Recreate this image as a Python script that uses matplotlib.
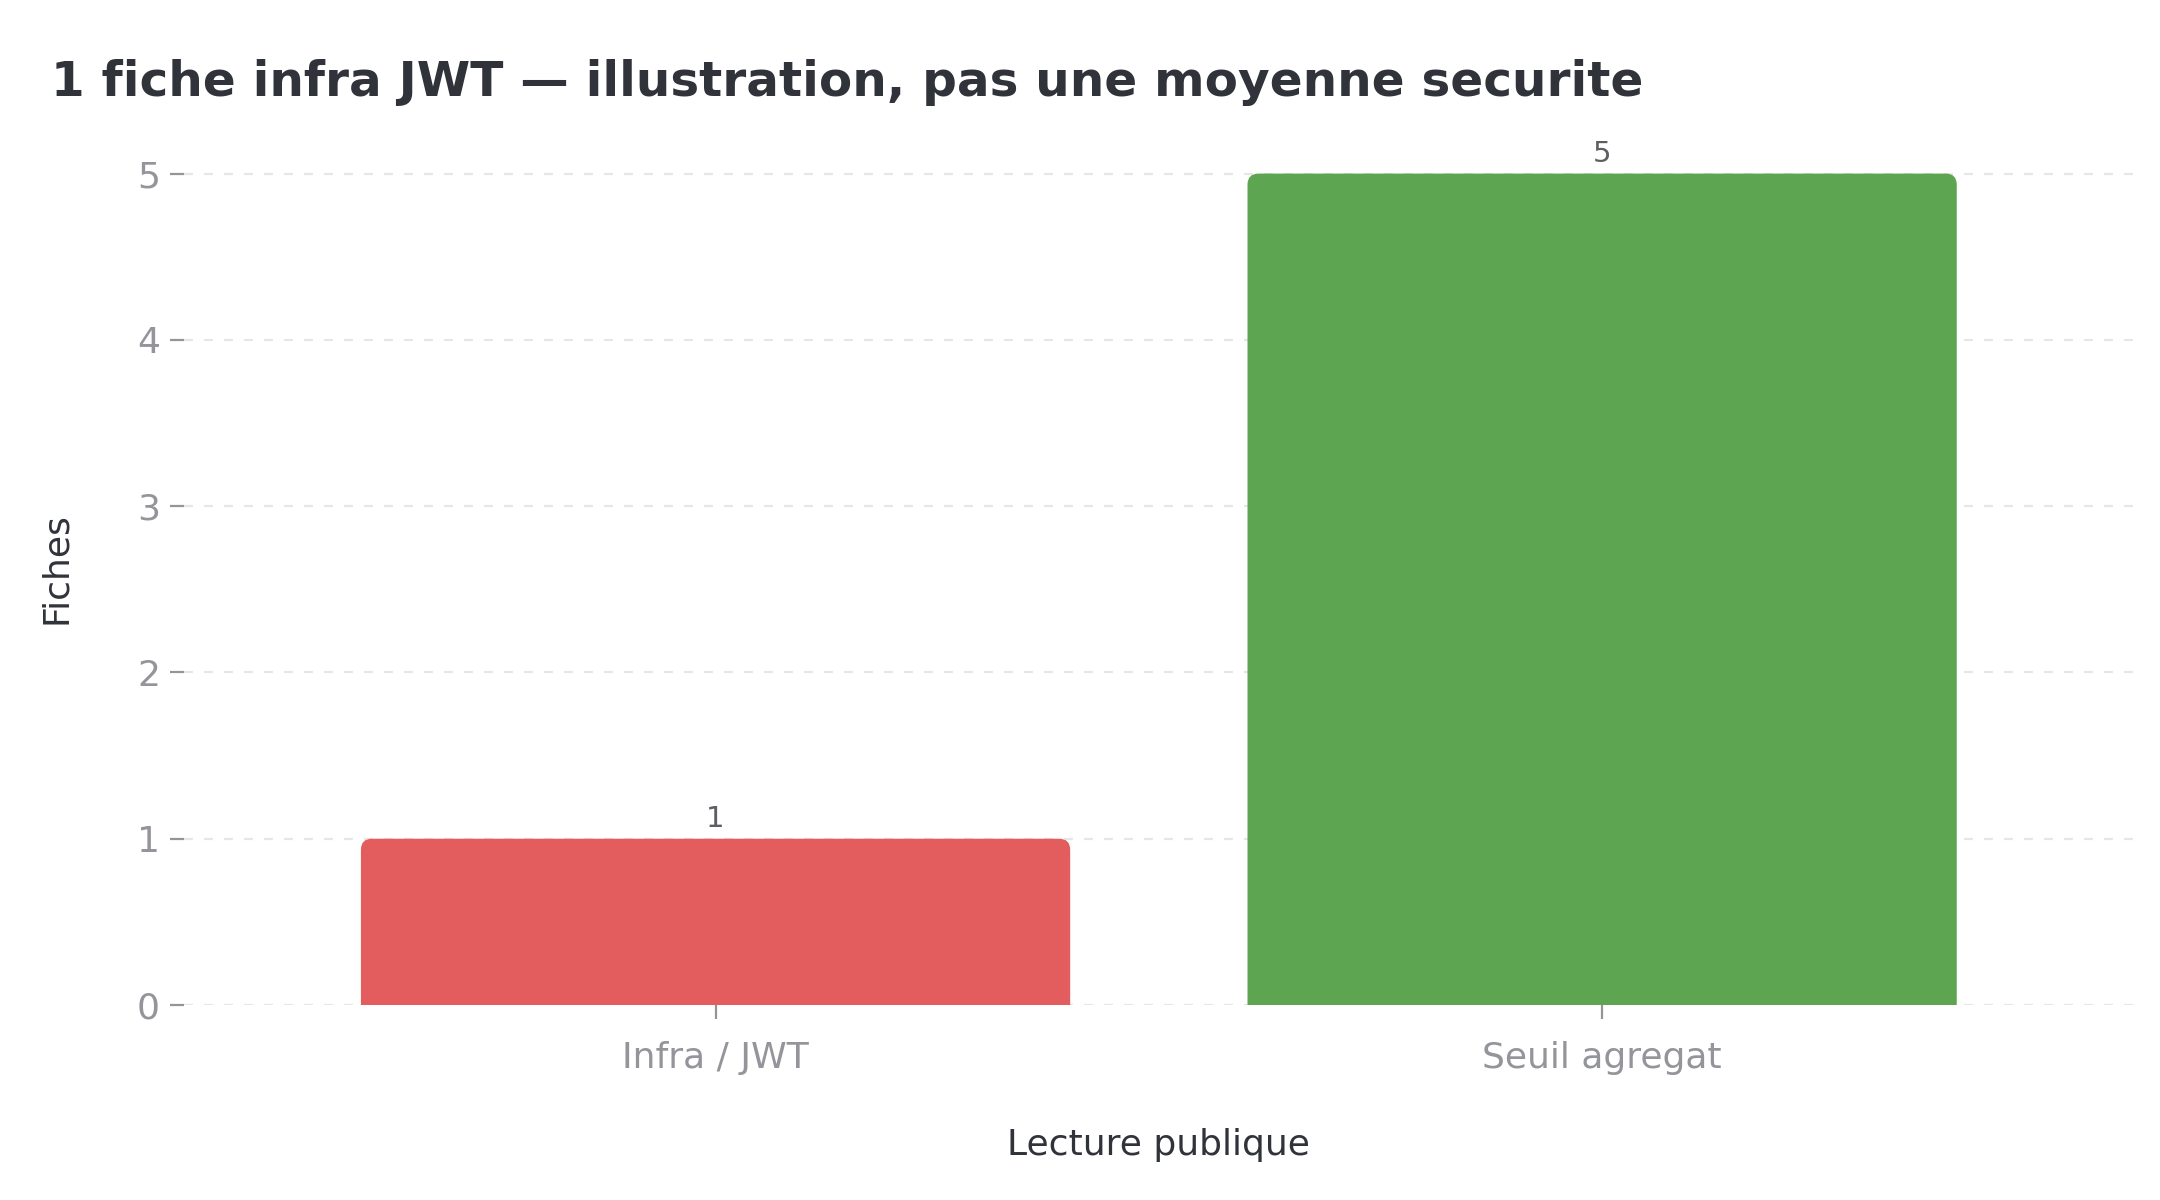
import matplotlib
matplotlib.use("Agg")
import matplotlib.pyplot as plt
from matplotlib.patches import FancyBboxPatch

# ── Data ──────────────────────────────────────────────────────────────────────
categories = ["Infra / JWT", "Seuil agregat"]
fiches     = [1, 5]
colors     = ["#e45d5e", "#5ea552"]

TITLE  = "1 fiche infra JWT \u2014 illustration, pas une moyenne securite"
XLABEL = "Lecture publique"
YLABEL = "Fiches"

DARK = "#31333b"
GREY = "#94949b"

# ── Figure ────────────────────────────────────────────────────────────────────
fig = plt.figure(figsize=(10.8, 6), dpi=200)
ax = fig.add_axes([0.085, 0.1625, 0.903, 0.7275])

x = list(range(len(categories)))
width = 0.8
bars = ax.bar(x, fiches, width=width, color="none", zorder=3)

# rounded top corners (bottom corners pushed below y=0 and clipped)
r = 0.0125
aspect = 5.3
for xi, v, c in zip(x, fiches, colors):
    p = FancyBboxPatch((xi - width / 2, -r * aspect * 2), width, v + r * aspect * 2,
                       boxstyle=f"round,pad=0,rounding_size={r}",
                       mutation_aspect=aspect, facecolor=c, edgecolor="none",
                       zorder=3)
    ax.add_patch(p)

ax.bar_label(bars, labels=[str(v) for v in fiches], padding=2,
             fontsize=10.5, color="#5d5e63")

ax.set_xlim(-0.6, 1.6)
ax.set_ylim(0, 5.25)
ax.set_xticks(x)
ax.set_xticklabels(categories)
ax.set_yticks(range(0, 6))

ax.tick_params(axis="both", colors=GREY, labelsize=13, length=5, width=0.8)
ax.tick_params(axis="x", pad=8)
ax.grid(axis="y", linestyle=(0, (4, 5)), color="#e6e6e6", linewidth=0.8, zorder=0)
ax.set_axisbelow(True)
for s in ax.spines.values():
    s.set_visible(False)

ax.set_xlabel(XLABEL, fontsize=13, color=DARK, labelpad=19)
ax.set_ylabel(YLABEL, fontsize=13, color=DARK, labelpad=23)

fig.text(0.0235, 0.931, TITLE, fontsize=17.45, fontweight="bold", color=DARK,
         ha="left", va="center")

fig.savefig("out.png", dpi=200, facecolor="white")
